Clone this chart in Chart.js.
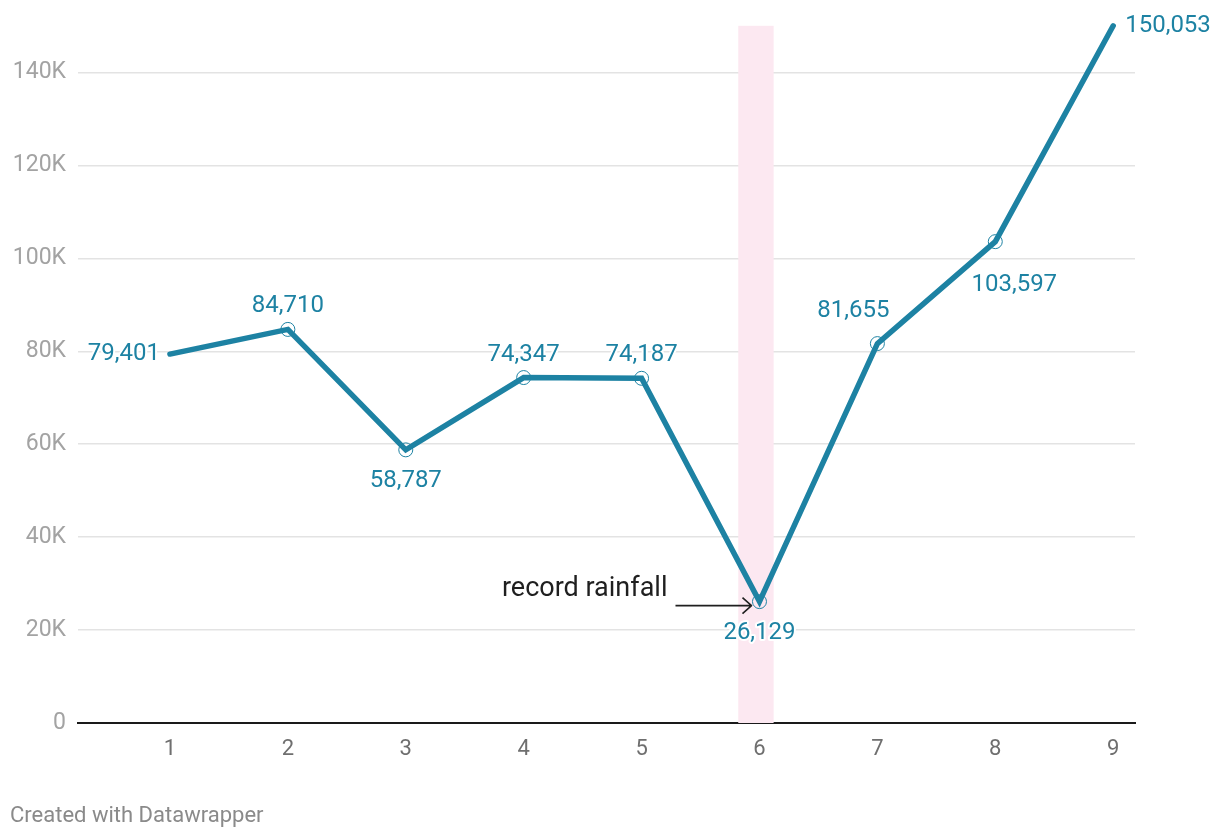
<!DOCTYPE html>
<html>
<head>
<meta charset="utf-8">
<script src="https://cdn.jsdelivr.net/npm/chart.js@4.4.1/dist/chart.umd.min.js"></script>
<style>
  body { margin: 0; background: #fff; font-family: Roboto, sans-serif; }
  #wrap { position: relative; width: 1220px; height: 840px; }
  #footer { position: absolute; left: 10px; top: 802px; font-size: 22px; color: #8a8a8a; }
</style>
</head>
<body>
<div id="wrap">
  <canvas id="lineChart" width="1220" height="840"></canvas>
  <div id="footer">Created with Datawrapper</div>
</div>
<script>
// === Data ===
const categories = [1, 2, 3, 4, 5, 6, 7, 8, 9];
const values = [79401, 84710, 58787, 74347, 74187, 26129, 81655, 103597, 150053];
const yTicks = [0, 20000, 40000, 60000, 80000, 100000, 120000, 140000];
// where each value label sits relative to its point
const labelSide = ["left", "top", "bottom", "top", "top", "bottom", "topleft", "bottomright", "right"];
const highlightRange = [5.82, 6.12];
const annotationText = "record rainfall";
const annotationIndex = 5;

const LINE_COLOR = "#1d82a3";

function fmt(v) {
  return v.toLocaleString("en-US");
}

// === Highlight band, value labels, annotation ===
const extras = {
  id: "extras",
  beforeDatasetsDraw(chart) {
    const { ctx, chartArea, scales } = chart;
    const x0 = scales.x.getPixelForValue(highlightRange[0]);
    const x1 = scales.x.getPixelForValue(highlightRange[1]);
    ctx.save();
    ctx.fillStyle = "#fce8f1";
    ctx.fillRect(x0, chartArea.top, x1 - x0, chartArea.bottom - chartArea.top);
    ctx.restore();
  },
  afterDatasetsDraw(chart) {
    const { ctx, scales } = chart;
    ctx.save();
    ctx.font = "24px Roboto";
    ctx.lineJoin = "round";
    values.forEach((v, i) => {
      const px = scales.x.getPixelForValue(categories[i]);
      const py = scales.y.getPixelForValue(v);
      let tx = px, ty = py;
      ctx.textAlign = "center";
      ctx.textBaseline = "middle";
      switch (labelSide[i]) {
        case "left": ctx.textAlign = "right"; tx = px - 10; break;
        case "right": ctx.textAlign = "left"; tx = px + 12; break;
        case "top": ty = py - 23; break;
        case "bottom": ty = py + 31; break;
        case "topleft": tx = px - 24; ty = py - 33; break;
        case "bottomright": tx = px + 19; ty = py + 43; break;
      }
      ctx.strokeStyle = "#fff";
      ctx.lineWidth = 4;
      ctx.strokeText(fmt(v), tx, ty);
      ctx.fillStyle = LINE_COLOR;
      ctx.fillText(fmt(v), tx, ty);
    });

    // annotation with arrow
    const ax = scales.x.getPixelForValue(categories[annotationIndex]);
    const ay = scales.y.getPixelForValue(values[annotationIndex]);
    ctx.font = "27px Roboto";
    ctx.textAlign = "right";
    ctx.textBaseline = "middle";
    ctx.fillStyle = "#1f1f1f";
    ctx.fillText(annotationText, ax - 92, ay - 12);
    ctx.strokeStyle = "#1f1f1f";
    ctx.lineWidth = 1.6;
    ctx.beginPath();
    ctx.moveTo(ax - 84, ay + 4);
    ctx.lineTo(ax - 8, ay + 4);
    ctx.moveTo(ax - 17, ay - 4);
    ctx.lineTo(ax - 8, ay + 4);
    ctx.lineTo(ax - 17, ay + 12);
    ctx.stroke();
    ctx.restore();
  }
};

// === Draw Chart ===
const ctx = document.getElementById("lineChart");
new Chart(ctx, {
  type: "line",
  data: {
    datasets: [{
      data: categories.map((c, i) => ({ x: c, y: values[i] })),
      borderColor: LINE_COLOR,
      borderWidth: 5.5,
      borderCapStyle: "round",
      pointRadius: values.map((v, i) => (i === 0 || i === values.length - 1 ? 0 : 7)),
      pointBorderWidth: 1,
      pointBorderColor: LINE_COLOR,
      pointBackgroundColor: "rgba(255,255,255,0)",
      clip: false,
      tension: 0,
    }],
  },
  options: {
    responsive: false,
    animation: false,
    layout: { padding: { top: 24, right: 85, bottom: 0, left: 0 } },
    plugins: { legend: { display: false }, tooltip: { enabled: false } },
    scales: {
      x: {
        type: "linear",
        min: 0.22,
        max: 9.185,
        afterBuildTicks: (axis) => {
          axis.ticks = categories.map((c) => ({ value: c }));
        },
        afterFit: (axis) => { axis.height = 117; },
        grid: { display: false, drawTicks: false },
        border: { display: true, color: "#1a1a1a", width: 2 },
        ticks: { color: "#6f6f6f", font: { family: "Roboto", size: 22 }, padding: 13 },
      },
      y: {
        min: 0,
        max: 150053,
        afterBuildTicks: (axis) => {
          axis.ticks = yTicks.map((t) => ({ value: t }));
        },
        afterFit: (axis) => { axis.width = 78; },
        grid: { color: "#e3e3e3", lineWidth: 1.5, drawTicks: false },
        border: { display: false },
        ticks: {
          color: "#a3a3a3",
          font: { family: "Roboto", size: 23 },
          padding: 12,
          callback: (v) => (v === 0 ? "0" : v / 1000 + "K"),
        },
      },
    },
  },
  plugins: [extras],
});
</script>
</body>
</html>
